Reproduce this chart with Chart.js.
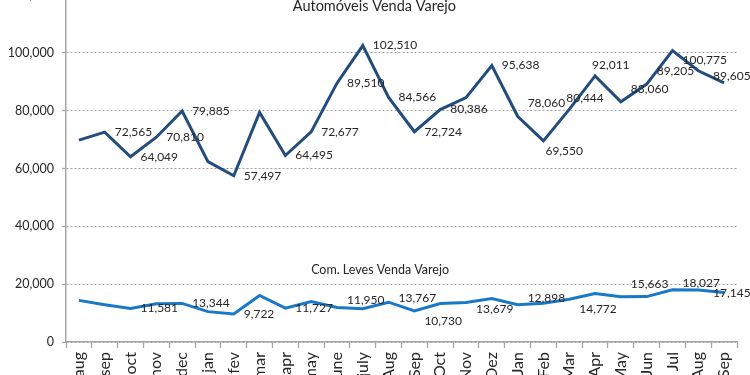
<!DOCTYPE html>
<html>
<head>
<meta charset="utf-8">
<script src="https://cdn.jsdelivr.net/npm/chart.js@4/dist/chart.umd.min.js"></script>
<style>
  html, body { margin: 0; padding: 0; background: #ffffff; overflow: hidden; width: 750px; height: 375px; }
  #wrap { position: absolute; left: 0; top: -25px; width: 750px; height: 412px; }
</style>
</head>
<body>
<div id="wrap"><canvas id="c"></canvas></div>
<script>
// ---- data ----
const categories = ['aug','sep','oct','nov','dec','jan','fev','mar','apr','may','june','july',
                    'Aug','Sep','Oct','Nov','Dez','Jan','Feb','Mar','Apr','May','Jun','Jul','Aug','Sep'];
const autoName = 'Automóveis Venda Varejo';
const autoValues = [69800, 72565, 64049, 70810, 79885, 62400, 57497, 79400, 64495, 72677, 89510, 102510,
                    84566, 72724, 80386, 84500, 95638, 78060, 69550, 80444, 92011, 83060, 89205, 100775, 93800, 89605];
const leveName = 'Com. Leves Venda Varejo';
const leveValues = [14400, 12900, 11581, 13200, 13344, 10500, 9722, 16100, 11727, 14000, 11950, 11500,
                    13767, 10730, 13300, 13679, 15000, 12898, 13400, 14772, 16800, 15663, 15700, 18027, 18000, 17145];
const yTicks = [0, 20000, 40000, 60000, 80000, 100000, 120000];

// which points carry a value label, and where it sits relative to the point
const autoLabelPlace = [null,'r','r','r','r',null,'r',null,'r','r','r','r',
                        'r','r','r',null,'r','ra','b','a','a','ra','ra','rb',null,'la'];
const leveLabelPlace = [null,null,'r',null,'r',null,'r',null,'r',null,'ra2',null,
                        'ra3','rb',null,'rb2',null,'ra2',null,'rb',null,'ra',null,'ra2',null,'l'];

// ---- styles ----
const placeOffsets = {
  r: [10, 0], ra: [10, -13], ra2: [10, -7], ra3: [10, -4], rb: [10, 10], rb2: [10, 7],
  a: [-3, -11], b: [2, 10], la: [-11, -7], l: [-11, 1]
};
const textColor = '#262626';
const fontFamily = 'Lato, "Open Sans", sans-serif';
const nameAnchors = [
  { text: autoName, index: 11.45, value: 116000, size: 14.5 },
  { text: leveName, index: 11.67, value: 24900, size: 12.5 }
];

const labelPlugin = {
  id: 'valueLabels',
  afterDatasetsDraw(chart) {
    const ctx = chart.ctx;
    const xs = chart.scales.x, ys = chart.scales.y;
    ctx.save();
    ctx.fillStyle = textColor;
    ctx.textBaseline = 'middle';
    ctx.textAlign = 'left';
    ctx.font = '12px ' + fontFamily;
    const sets = [[autoValues, autoLabelPlace], [leveValues, leveLabelPlace]];
    sets.forEach(([vals, places]) => {
      vals.forEach((v, i) => {
        const p = places[i];
        if (!p) return;
        const off = placeOffsets[p];
        const x = xs.getPixelForValue(i) + off[0];
        const y = ys.getPixelForValue(v) + off[1];
        ctx.fillText(v.toLocaleString('en-US'), x, y);
      });
    });
    ctx.textAlign = 'center';
    nameAnchors.forEach(a => {
      ctx.font = a.size + 'px ' + fontFamily;
      ctx.fillText(a.text, xs.getPixelForValue(a.index), ys.getPixelForValue(a.value));
    });
    ctx.restore();
  }
};

new Chart(document.getElementById('c'), {
  type: 'line',
  data: {
    labels: categories,
    datasets: [
      { label: autoName, data: autoValues, borderColor: '#234c7e', borderWidth: 3,
        pointRadius: 0, tension: 0, fill: false },
      { label: leveName, data: leveValues, borderColor: '#1a78c8', borderWidth: 3,
        pointRadius: 0, tension: 0, fill: false }
    ]
  },
  options: {
    responsive: true,
    maintainAspectRatio: false,
    animation: false,
    layout: { padding: { top: 20, right: 13, left: 0, bottom: 0 } },
    plugins: { legend: { display: false }, tooltip: { enabled: false }, title: { display: false } },
    scales: {
      x: {
        type: 'category',
        offset: true,
        afterFit: s => { s.height = 45; },
        grid: { offset: true, drawOnChartArea: false, drawTicks: true, tickLength: 6,
                color: '#a6a6a6', tickColor: '#a6a6a6', tickWidth: 1.3 },
        border: { display: true, color: '#a6a6a6', width: 1.5 },
        ticks: { autoSkip: false, minRotation: 90, maxRotation: 90, padding: 4,
                 color: textColor, font: { family: fontFamily, size: 16 } }
      },
      y: {
        min: 0, max: 120000,
        afterFit: s => { s.width = 66; },
        afterBuildTicks: s => { s.ticks = yTicks.map(v => ({ value: v })); },
        grid: { color: '#a0a0a0', lineWidth: 1, tickLength: 4, tickColor: '#a6a6a6', tickWidth: 1.3 },
        border: { display: true, color: '#a6a6a6', width: 1.5, dash: [2, 2] },
        ticks: { padding: 8, color: textColor, font: { family: fontFamily, size: 12.5 },
                 callback: v => Number(v).toLocaleString('en-US') }
      }
    }
  },
  plugins: [labelPlugin]
});
</script>
</body>
</html>
